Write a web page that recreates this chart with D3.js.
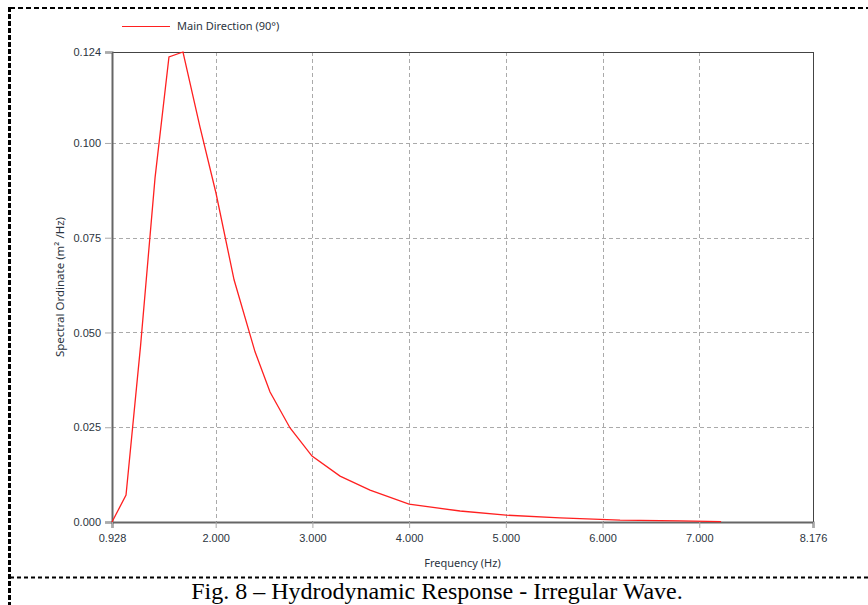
<!DOCTYPE html>
<html>
<head>
<meta charset="utf-8">
<script src="https://cdn.jsdelivr.net/npm/d3@7"></script>
<style>
  body { margin: 0; background: #fff; }
  svg { display: block; }
</style>
</head>
<body>
<div id="viz"></div>
<script>
// spectrum
var freq = [0.928, 1.073, 1.223, 1.373, 1.517, 1.662, 1.838, 2.003, 2.190, 2.407, 2.562,
            2.769, 2.996, 3.286, 3.596, 3.999, 4.527, 5.002, 5.561, 6.181, 6.802, 7.226];
var spec = [0.0000, 0.0071, 0.0464, 0.0908, 0.1227, 0.1240, 0.1042, 0.0868, 0.0639, 0.0449, 0.0343,
            0.0248, 0.0174, 0.0121, 0.0084, 0.0047, 0.0029, 0.0018, 0.0011, 0.0005, 0.0003, 0.0001];
var xTicks = [0.928, 2, 3, 4, 5, 6, 7, 8.176];
var yTicks = [0, 0.025, 0.05, 0.075, 0.1, 0.124];
var seriesName = "Main Direction (90°)";

var margin = {top: 52, right: 55, bottom: 83, left: 112},
    W = 868, H = 605,
    width = W - margin.left - margin.right,
    height = H - margin.top - margin.bottom;

var x = d3.scaleLinear().domain([0.928, 8.176]).range([0, width]);
var y = d3.scaleLinear().domain([0, 0.124]).range([height, 0]);

var svg = d3.select("#viz").append("svg")
    .attr("width", W)
    .attr("height", H)
    .style("font-family", "'Noto Sans', 'Open Sans', sans-serif");

// dashed figure frame
svg.append("line").attr("x1", 10).attr("x2", W).attr("y1", 8).attr("y2", 8)
    .attr("stroke", "#000").attr("stroke-width", 2).attr("stroke-dasharray", "5,3");
svg.append("line").attr("x1", 9.5).attr("x2", 9.5).attr("y1", 7).attr("y2", H)
    .attr("stroke", "#000").attr("stroke-width", 3).attr("stroke-dasharray", "5,2");
svg.append("line").attr("x1", 10).attr("x2", W).attr("y1", 577.5).attr("y2", 577.5)
    .attr("stroke", "#000").attr("stroke-width", 2).attr("stroke-dasharray", "4,3");

svg.append("text")
    .attr("x", 437).attr("y", 599)
    .attr("text-anchor", "middle")
    .style("font-family", "'Liberation Serif', 'Times New Roman', serif")
    .style("font-size", "24px")
    .attr("fill", "#000")
    .text("Fig. 8 – Hydrodynamic Response - Irregular Wave.");

var g = svg.append("g").attr("transform", "translate(" + margin.left + "," + margin.top + ")");

// grid
g.selectAll(".vgrid").data(xTicks.slice(1, -1)).enter().append("line")
    .attr("x1", function(d) { return Math.round(x(d)) + 0.5; })
    .attr("x2", function(d) { return Math.round(x(d)) + 0.5; })
    .attr("y1", 0).attr("y2", height)
    .attr("stroke", "#aaa").attr("stroke-dasharray", "4,3");
g.selectAll(".hgrid").data(yTicks.slice(1, -1)).enter().append("line")
    .attr("y1", function(d) { return Math.round(y(d)) + 0.5; })
    .attr("y2", function(d) { return Math.round(y(d)) + 0.5; })
    .attr("x1", 0).attr("x2", width)
    .attr("stroke", "#aaa").attr("stroke-dasharray", "4,3");

// top / right border
g.append("line").attr("x1", 0).attr("x2", width).attr("y1", 0.5).attr("y2", 0.5)
    .attr("stroke", "#444");
g.append("line").attr("x1", width + 0.5).attr("x2", width + 0.5).attr("y1", 0).attr("y2", height)
    .attr("stroke", "#444");

// axes
var yAxis = d3.axisLeft(y).tickValues(yTicks).tickFormat(d3.format(".3f")).tickSize(7).tickPadding(4);
var xAxis = d3.axisBottom(x).tickValues(xTicks).tickFormat(d3.format(".3f")).tickSize(6).tickPadding(6);

var ya = g.append("g").call(yAxis);
var xa = g.append("g").attr("transform", "translate(0," + height + ")").call(xAxis);
[ya, xa].forEach(function(a) {
  a.select(".domain").attr("stroke", "#666").attr("stroke-width", 2);
  a.selectAll(".tick line").attr("stroke", "#aaa");
  a.selectAll("text").attr("fill", "#2b3440").style("font-size", "11px");
});

// the curve
var line = d3.line()
    .x(function(d, i) { return x(freq[i]); })
    .y(function(d) { return y(d); });
g.append("path").datum(spec)
    .attr("d", line)
    .attr("fill", "none")
    .attr("stroke", "#ff2020")
    .attr("stroke-width", 1.3);

// axis titles
g.append("text")
    .attr("x", width / 2).attr("y", height + 45)
    .attr("text-anchor", "middle")
    .attr("fill", "#2b3440").style("font-size", "11px")
    .text("Frequency (Hz)");
g.append("text")
    .attr("transform", "translate(" + (-48) + "," + (height / 2) + ") rotate(-90)")
    .attr("text-anchor", "middle")
    .attr("fill", "#2b3440").style("font-size", "11.5px")
    .text("Spectral Ordinate (m² /Hz)");

// legend
svg.append("line").attr("x1", 122).attr("x2", 170).attr("y1", 26.5).attr("y2", 26.5)
    .attr("stroke", "#ff2020").attr("stroke-width", 1.2);
svg.append("text").attr("x", 177).attr("y", 30)
    .attr("fill", "#2b3440").style("font-size", "11px")
    .text(seriesName);
</script>
</body>
</html>
